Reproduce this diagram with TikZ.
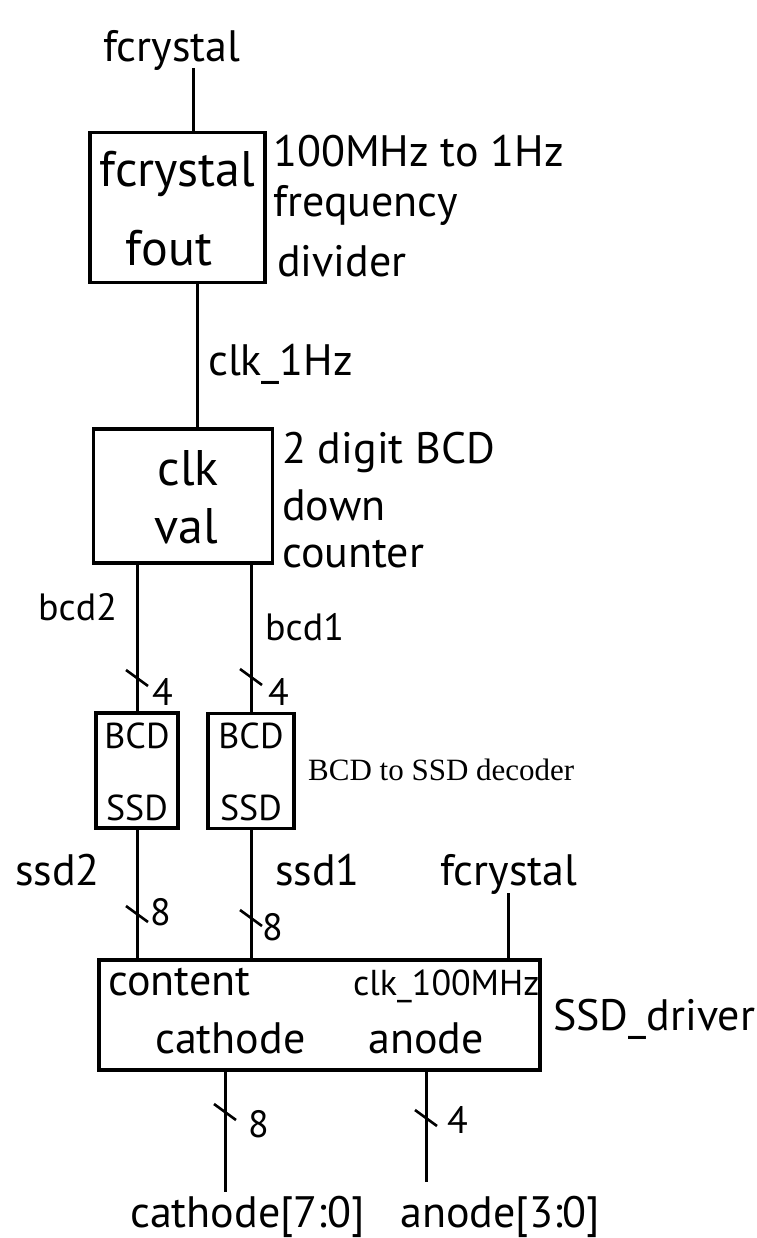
\documentclass[tikz,border=0pt]{standalone}
\usepackage{fontspec}
\setmainfont{PT Sans}
\newfontfamily\tnr{Liberation Serif}
\tikzset{
  hw/.style={anchor=base west, inner sep=0pt, font=\fontsize{44}{48}\selectfont},
  hwbig/.style={anchor=base, inner sep=0pt, font=\fontsize{50}{54}\selectfont},
  hwsm/.style={anchor=base west, inner sep=0pt, font=\fontsize{38}{42}\selectfont},
  hwbox/.style={anchor=base, inner sep=0pt, font=\fontsize{36}{40}\selectfont},
  serifnote/.style={anchor=base west, inner sep=0pt, font=\tnr\fontsize{31}{35}\selectfont},
  blk/.style={draw, line width=3.4pt, inner sep=0pt, outer sep=0pt},
  wire/.style={line width=3pt},
  slash/.style={line width=2.6pt}
}
\begin{document}
\begin{tikzpicture}[x=1pt,y=-1pt]
\fill[white] (0,0) rectangle (756,1238);
\useasboundingbox (0,0) rectangle (756,1238);

% blocks
\node[blk, minimum width=175pt, minimum height=150pt] (b1) at (177.5,207.5) {};
\node[blk, minimum width=179pt, minimum height=134pt] (b2) at (183,496) {};
\node[blk, minimum width=82pt, minimum height=115pt] (b3) at (137,770.5) {};
\node[blk, minimum width=86pt, minimum height=115pt] (b4) at (251,771) {};
\node[blk, minimum width=441pt, minimum height=110pt] (b5) at (319.5,1015) {};

% texts
\node[hw] (tin) at (103,62) {fcrystal};
\node[hwbig] (t1a) at (b1.center |- 0,187) {fcrystal};
\node[hwbig] (t1b) at (169,266) {fout};
\node[hw] (d1a) at (273,167) {100MHz to 1Hz};
\node[hw] (d1b) at (273,217) {frequency};
\node[hw] (d1c) at (277,277) {divider};
\node[hw] (tclk) at (208,375) {clk\_1Hz};
\node[hwbig] (t2a) at (188,485) {clk};
\node[hwbig] (t2b) at (186,543) {val};
\node[hw] (d2a) at (282,463) {2 digit BCD};
\node[hw] (d2b) at (282,520) {down};
\node[hw] (d2c) at (282,567) {counter};
\node[hwsm] (tb2) at (38,620) {bcd2};
\node[hwsm] (tb1) at (265,640) {bcd1};
\node[hwsm] (n4a) at (152,705) {4};
\node[hwsm] (n4b) at (268,705) {4};
\node[hwbox] (t3a) at (b3.center |- 0,748) {BCD};
\node[hwbox] (t3b) at (b3.center |- 0,820) {SSD};
\node[hwbox] (t4a) at (b4.center |- 0,748) {BCD};
\node[hwbox] (t4b) at (b4.center |- 0,820) {SSD};
\node[serifnote] (dec) at (308,780) {BCD to SSD decoder};
\node[hw] (ts2) at (15,885) {ssd2};
\node[hw] (ts1) at (275,885) {ssd1};
\node[hw] (tfc) at (440,885) {fcrystal};
\node[hwsm] (n8a) at (150,925) {8};
\node[hwsm] (n8b) at (262,940) {8};
\node[hw] (t5a) at (108,995) {content};
\node[hwsm, font=\fontsize{36}{40}\selectfont] (t5b) at (353,995) {clk\_100MHz};
\node[hw] (t5c) at (155,1053) {cathode};
\node[hw] (t5d) at (368,1053) {anode};
\node[hw] (d5) at (553,1030) {SSD\_driver};
\node[hwsm] (n8c) at (248,1137) {8};
\node[hwsm] (n4c) at (447,1133) {4};
\node[hw] (tout1) at (130,1227) {cathode[7:0]};
\node[hw] (tout2) at (400,1227) {anode[3:0]};

% free ends and helper coordinates
\coordinate (cin) at (193,68);
\coordinate (x1) at (197,0);
\coordinate (cfc) at (508,893);
\coordinate (ocat) at (225,1192);
\coordinate (oan) at (426,1182);

% wires
\draw[wire] (cin) -- (cin |- b1.north);
\draw[wire] (b1.south -| x1) -- (b2.north -| x1);
\draw[wire] (b3.north |- b2.south) -- (b3.north);
\draw[wire] (b4.north |- b2.south) -- (b4.north);
\draw[wire] (b3.south) -- (b3.south |- b5.north);
\draw[wire] (b4.south) -- (b4.south |- b5.north);
\draw[wire] (cfc) -- (cfc |- b5.north);
\draw[wire] (ocat |- b5.south) -- (ocat);
\draw[wire] (oan |- b5.south) -- (oan);

% bus width ticks
\coordinate (k1) at (137,678);
\coordinate (k2) at (251,677);
\coordinate (k3) at (137,914);
\coordinate (k4) at (251,918);
\coordinate (k5) at (225,1112);
\coordinate (k6) at (426,1118);
\foreach \k in {k1,k2,k3,k4,k5,k6}
  \draw[slash] ([shift={(-11,-8)}]\k) -- ([shift={(11,8)}]\k);
\end{tikzpicture}
\end{document}
